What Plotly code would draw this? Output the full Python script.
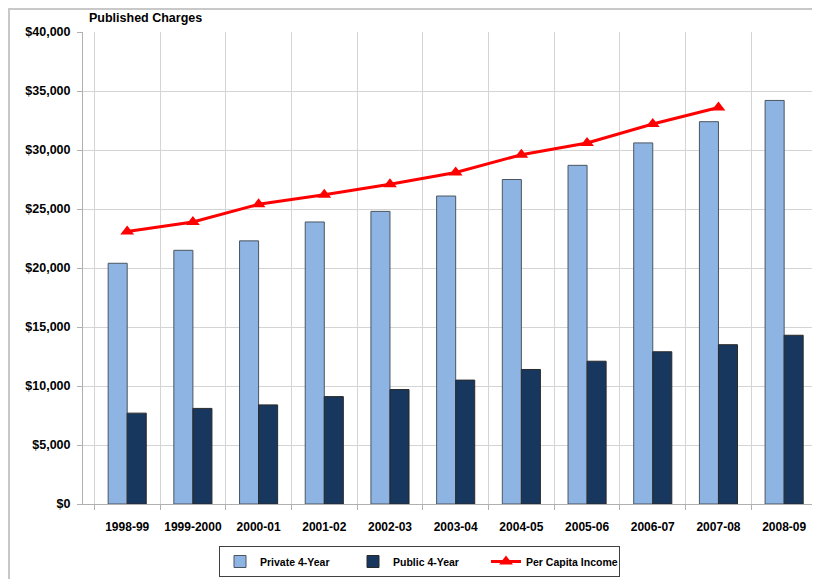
import plotly.graph_objects as go

years = ["1998-99", "1999-2000", "2000-01", "2001-02", "2002-03", "2003-04",
         "2004-05", "2005-06", "2006-07", "2007-08", "2008-09"]
private_4yr = [20400, 21500, 22300, 23900, 24800, 26100, 27500, 28700, 30600, 32400, 34200]
public_4yr = [7700, 8100, 8400, 9100, 9700, 10500, 11400, 12100, 12900, 13500, 14300]
per_capita_years = years[:10]
per_capita_income = [23100, 23900, 25400, 26200, 27100, 28100, 29600, 30600, 32200, 33600]
y_ticks = [0, 5000, 10000, 15000, 20000, 25000, 30000, 35000, 40000]

FONT = "Liberation Sans Narrow, Arial Narrow, Liberation Sans, sans-serif"

fig = go.Figure()
fig.add_trace(go.Bar(x=years, y=private_4yr, name="Private 4-Year",
                     marker=dict(color="#8EB4E3", line=dict(color="#4A5560", width=1))))
fig.add_trace(go.Bar(x=years, y=public_4yr, name="Public 4-Year",
                     marker=dict(color="#17375E", line=dict(color="#2A2A2A", width=1))))
fig.add_trace(go.Scatter(x=per_capita_years, y=per_capita_income, name="Per Capita Income",
                         mode="lines+markers",
                         line=dict(color="#FF0000", width=3),
                         marker=dict(symbol="triangle-up", size=12, color="#FF0000")))

W, H = 812, 571
L, R, T, B = 75, 3, 24, 75
pw = W - L - R
ph = H - T - B

fig.update_layout(
    width=W, height=H,
    margin=dict(l=L, r=R, t=T, b=B, autoexpand=False),
    paper_bgcolor="white", plot_bgcolor="white",
    barmode="group", bargap=0.42, bargroupgap=0,
    font=dict(family=FONT, size=11, color="black", weight="bold"),
    showlegend=True,
    legend=dict(orientation="h", x=(411.5 - L) / pw, xanchor="center", xref="paper",
                y=-42 / ph, yanchor="top",
                bordercolor="#404040", borderwidth=1,
                font=dict(family=FONT, size=10.5, weight="bold"),
                itemwidth=30, entrywidth=88, entrywidthmode="pixels"),
    xaxis=dict(type="category", tickson="boundaries", showgrid=True,
               gridcolor="#D4D4D4", gridwidth=1, automargin=False,
               showline=True, linecolor="#B0B0B0",
               ticks="outside", ticklen=5, tickcolor="#B0B0B0",
               ticklabelstandoff=12, tickangle=0,
               tickfont=dict(family=FONT, size=12, weight="bold")),
    yaxis=dict(range=[0, 40000], tickvals=y_ticks,
               tickformat="$,.0f", showgrid=True,
               gridcolor="#D4D4D4", gridwidth=1, automargin=False,
               showline=True, linecolor="#B0B0B0",
               ticks="outside", ticklen=5, tickcolor="#B0B0B0",
               zeroline=False, ticklabelstandoff=4,
               tickfont=dict(family=FONT, size=12.5, weight="bold")),
    annotations=[dict(text="Published Charges", xref="paper", yref="paper",
                      x=(79 - L) / pw, y=1.0, xanchor="left", yanchor="middle", yshift=14,
                      showarrow=False,
                      font=dict(family=FONT, size=12.5, weight="bold"))],
    shapes=[
        dict(type="line", xref="paper", yref="paper",
             x0=(0 - L) / pw, x1=(W - L) / pw, y0=(ph + T - 1) / ph, y1=(ph + T - 1) / ph,
             line=dict(color="#C8C8C8", width=2)),
        dict(type="line", xref="paper", yref="paper",
             x0=(1 - L) / pw, x1=(1 - L) / pw, y0=-B / ph, y1=(ph + T) / ph,
             line=dict(color="#C8C8C8", width=2)),
    ],
)

fig.write_html("out.html")
